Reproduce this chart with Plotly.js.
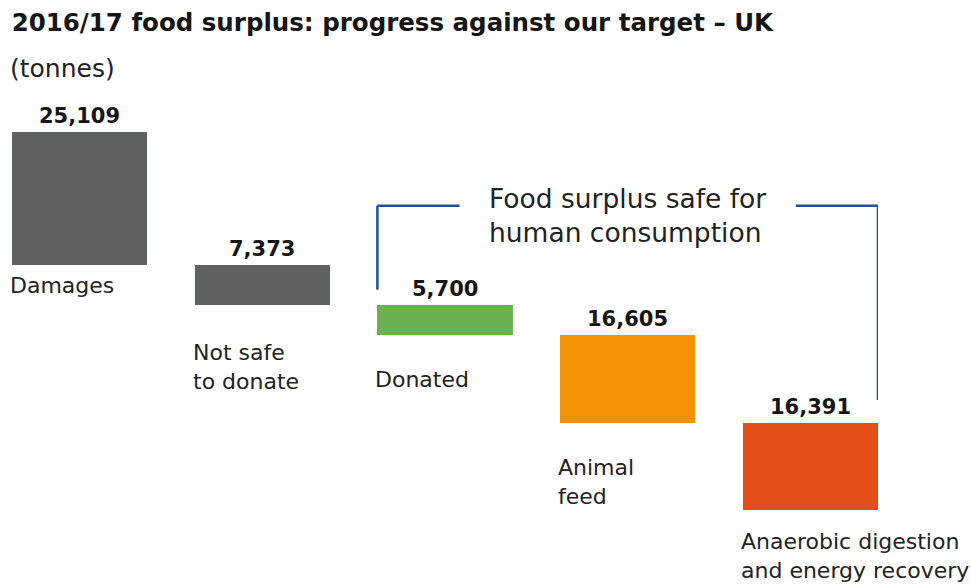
<!DOCTYPE html>
<html>
<head>
<meta charset="utf-8">
<script src="https://cdn.plot.ly/plotly-3.0.1.min.js"></script>
<style>html,body{margin:0;padding:0;background:#fff;}#chart{width:971px;height:585px;}</style>
</head>
<body>
<div id="chart"></div>
<script>
const categories = ["Damages", "Not safe<br>to donate", "Donated", "Animal<br>feed", "Anaerobic digestion<br>and energy recovery"];
const values = [25109, 7373, 5700, 16605, 16391];
const valueLabels = ["25,109", "7,373", "5,700", "16,605", "16,391"];
const colors = ["#5e6361", "#5e6361", "#6ab04f", "#f39205", "#e44f15"];

const FONT = "'DejaVu Sans', Inter, sans-serif";
const labelShift = [-6, -33, -30, -30, -17];
const xs = values.map((v, i) => i);
const bases = [];
let acc = 0;
values.forEach(v => { bases.push(acc); acc += v; });
const total = acc;
const half = 0.37;

const annotations = [];
values.forEach((v, i) => {
  annotations.push({x: i, y: bases[i], xref: 'x', yref: 'y', text: '<b>' + valueLabels[i] + '</b>',
    showarrow: false, xanchor: 'center', yanchor: 'bottom', yshift: 2,
    font: {family: FONT, size: 21, color: '#151515'}});
  annotations.push({x: i - half, y: bases[i] + v, xref: 'x', yref: 'y', text: categories[i],
    showarrow: false, xanchor: 'left', yanchor: 'top', align: 'left', yshift: labelShift[i], xshift: -4,
    font: {family: FONT, size: 22, color: '#222'}});
});
annotations.push({x: 0, xref: 'paper', y: 1, yref: 'paper', yshift: 64, text: '(tonnes)',
  showarrow: false, xanchor: 'left', yanchor: 'middle', xshift: -4,
  font: {family: FONT, size: 25, color: '#222'}});
annotations.push({x: 3, xref: 'x', y: bases[2] - 0.57 * bases[1], yref: 'y', yshift: 13,
  text: 'Food surplus safe for<br>human consumption', showarrow: false,
  xanchor: 'center', yanchor: 'middle', align: 'left',
  font: {family: FONT, size: 26.5, color: '#222'}});

// bracket around food surplus safe for human consumption
const bTop = bases[2] - 0.74 * bases[1];
const bLeftBottom = bases[2] - 2800;
const bRightBottom = bases[4] - 4300;
const bx0 = 2 - half, bx1 = 4 + half;
const lineStyle = {color: '#1f4e9a', width: 2.5};
const shapes = [
  {type: 'line', xref: 'x', yref: 'y', x0: bx0, x1: bx0, y0: bLeftBottom, y1: bTop, line: lineStyle},
  {type: 'line', xref: 'x', yref: 'y', x0: bx0, x1: 2.08, y0: bTop, y1: bTop, line: lineStyle},
  {type: 'line', xref: 'x', yref: 'y', x0: 3.92, x1: bx1, y0: bTop, y1: bTop, line: lineStyle},
  {type: 'line', xref: 'x', yref: 'y', x0: bx1, x1: bx1, y0: bTop, y1: bRightBottom, line: lineStyle}
];

const trace = {type: 'bar', x: xs, y: values, base: bases, width: 0.74,
  marker: {color: colors, line: {width: 0}}, hoverinfo: 'skip'};

const layout = {
  width: 971, height: 585,
  margin: {l: 12, r: 93, t: 132, b: 75},
  paper_bgcolor: '#fff', plot_bgcolor: '#fff',
  title: {text: '<b>2016/17 food surplus: progress against our target – UK</b>',
    x: 0.012, xanchor: 'left', xref: 'container', y: 0.962, yanchor: 'middle', yref: 'container',
    font: {family: FONT, size: 24.5, color: '#151515'}},
  xaxis: {range: [-half, 4 + half], visible: false, fixedrange: true},
  yaxis: {range: [total, 0], visible: false, fixedrange: true},
  showlegend: false, bargap: 0,
  annotations: annotations, shapes: shapes
};
Plotly.newPlot('chart', [trace], layout, {displayModeBar: false, staticPlot: true});
</script>
</body>
</html>
